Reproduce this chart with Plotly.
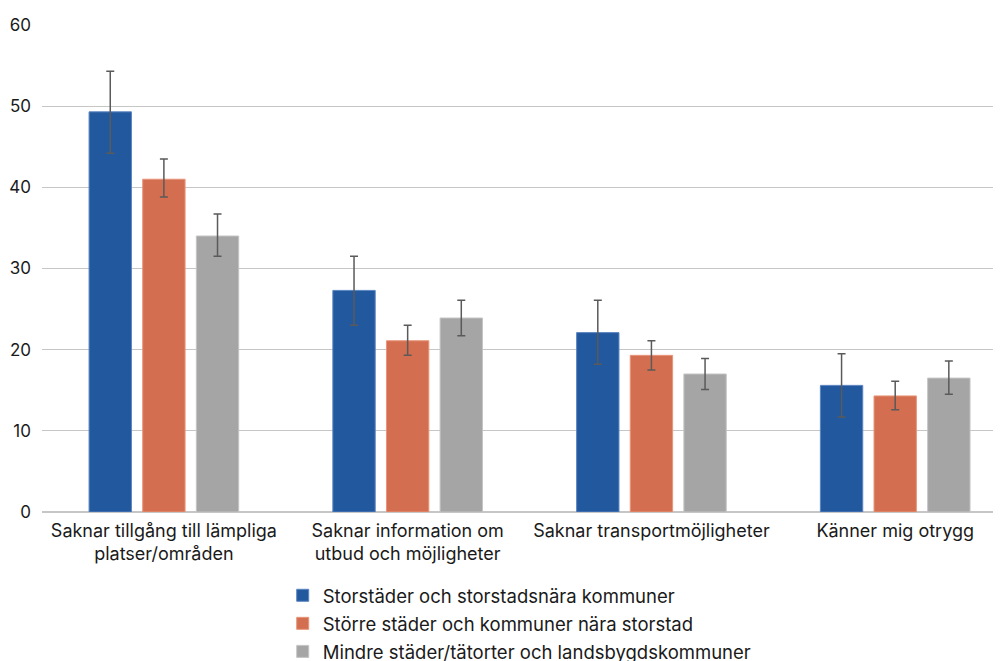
import plotly.graph_objects as go

categories = ["Saknar tillgång till lämpliga<br>platser/områden",
              "Saknar information om<br>utbud och möjligheter",
              "Saknar transportmöjligheter",
              "Känner mig otrygg"]
series_names = ["Storstäder och storstadsnära kommuner",
                "Större städer och kommuner nära storstad",
                "Mindre städer/tätorter och landsbygdskommuner"]
values_storstad = [49.3, 27.3, 22.1, 15.6]
err_hi_storstad = [54.3, 31.5, 26.1, 19.5]
err_lo_storstad = [44.2, 23.0, 18.2, 11.7]
values_storre = [41.0, 21.1, 19.3, 14.3]
err_hi_storre = [43.5, 23.0, 21.1, 16.1]
err_lo_storre = [38.8, 19.3, 17.5, 12.6]
values_mindre = [34.0, 23.9, 17.0, 16.5]
err_hi_mindre = [36.7, 26.1, 18.9, 18.6]
err_lo_mindre = [31.5, 21.7, 15.1, 14.5]
colors = ["#22589E", "#D36F50", "#A5A5A5"]
line_colors = ["#5B85C0", "#E8957A", "#C4C4C4"]
y_ticks = [0, 10, 20, 30, 40, 50, 60]

xpos = list(range(len(categories)))
series = [(values_storstad, err_hi_storstad, err_lo_storstad),
          (values_storre, err_hi_storre, err_lo_storre),
          (values_mindre, err_hi_mindre, err_lo_mindre)]

fig = go.Figure()
for i, (name, (v, hi, lo), c, lc) in enumerate(zip(series_names, series, colors, line_colors)):
    fig.add_trace(go.Bar(
        x=xpos, y=v, name=name, legendgroup=f"g{i}",
        marker=dict(color=c, line=dict(color=lc, width=1)),
        error_y=dict(type="data", symmetric=False,
                     array=[h - a for h, a in zip(hi, v)],
                     arrayminus=[a - l for a, l in zip(v, lo)],
                     color="#5A5A5A", thickness=1.5, width=4),
    ))

fig.update_layout(
    width=993, height=653,
    margin=dict(l=34, r=0, t=17, b=149, autoexpand=False),
    paper_bgcolor="white", plot_bgcolor="white",
    barmode="group", bargap=0.34, bargroupgap=0.21,
    font=dict(family="Inter, Roboto, sans-serif", size=17, color="#1a1a1a"),
    xaxis=dict(range=[-0.5, 3.434], tickvals=xpos, ticktext=categories,
               tickfont=dict(size=18), showgrid=False, zeroline=False,
               showline=False, ticks="", ticklabelstandoff=6),
    yaxis=dict(range=[0, 60], tickvals=y_ticks, showgrid=True,
               gridcolor="#C6C6C6", gridwidth=1, zeroline=True,
               zerolinecolor="#C6C6C6", zerolinewidth=1.5,
               ticklabelstandoff=10, tickfont=dict(size=17)),
    legend=dict(orientation="v", x=0.251, xanchor="left",
                y=0.129, yref="container", yanchor="top",
                font=dict(size=18.5), itemwidth=30,
                tracegroupgap=1, bgcolor="rgba(0,0,0,0)"),
    showlegend=True,
)

fig.write_html("out.html")
